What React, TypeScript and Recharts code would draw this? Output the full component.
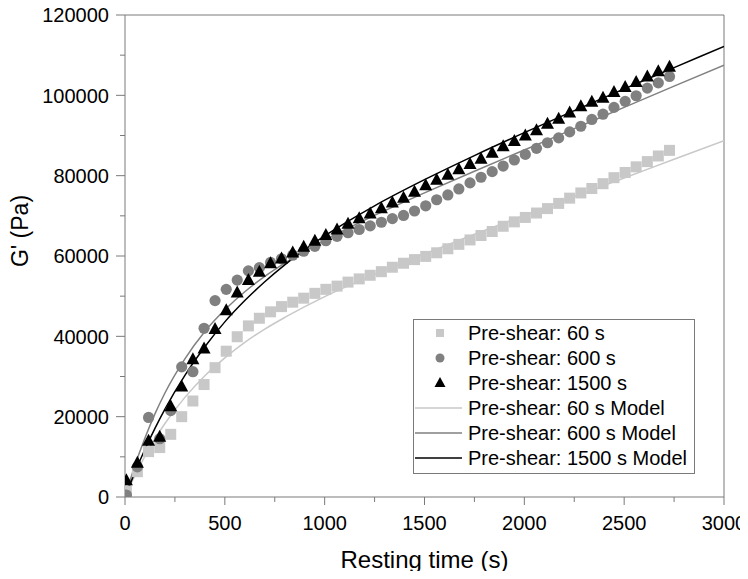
import { ComposedChart, Legend, Line, ReferenceLine, Scatter, XAxis, YAxis } from "recharts";

// measured G' at each resting time, one array per pre-shear duration
const restTime = [
  7, 62, 118, 174, 229, 284, 340, 396, 451, 507, 562, 618, 673, 729, 784, 840, 895, 951, 1006, 1062,
  1117, 1173, 1228, 1284, 1339, 1395, 1450, 1506, 1561, 1617, 1672, 1728, 1783, 1839, 1894, 1950,
  2005, 2061, 2116, 2172, 2227, 2283, 2338, 2394, 2449, 2505, 2560, 2616, 2671, 2727
];
const gPre60 = [
  1500, 6300, 11300, 12300, 15600, 20000, 23900, 28000, 32200, 36300, 39900, 42600, 44500, 46100,
  47400, 48500, 49500, 50700, 51700, 52500, 53500, 54300, 55200, 56100, 57200, 58200, 59100, 59900,
  60800, 61800, 62900, 64000, 65100, 66100, 67400, 68500, 69600, 70700, 71800, 73100, 74400, 75700,
  76800, 78000, 79500, 80800, 82200, 83500, 84900, 86300
];
const gPre600 = [
  500, 7500, 19800, 14500, 21500, 32400, 31200, 42000, 48900, 51700, 54000, 56300, 57100, 58400,
  59300, 60200, 61200, 62400, 63800, 64900, 65800, 66600, 67500, 68400, 69300, 70100, 71200, 72500,
  74000, 75200, 76700, 78200, 79600, 81000, 82400, 83900, 85300, 86800, 88200, 89400, 90900, 92300,
  94000, 95300, 97000, 98500, 99900, 101800, 103100, 104700
];
const gPre1500 = [
  4200, 8500, 14000, 15000, 22600, 27500, 34300, 37000, 41800, 46500, 50900, 54000, 56100, 58200,
  59400, 60900, 62300, 63800, 65200, 66600, 68000, 69400, 70600, 71900, 73300, 74500, 76000, 77600,
  79000, 80200, 81600, 82900, 84200, 85700, 87300, 88600, 90000, 91300, 92900, 94200, 95700, 97300,
  98400, 99400, 100800, 102100, 103300, 104700, 106000, 107100
];

// fitted model curves
const modelTime = [0, 50, 100, 150, 200, 300, 400, 500, 600, 700, 800, 1000, 1250, 1500, 1750, 2000, 2250, 2500, 2750, 3000];
const model60 = [0, 5400, 10200, 14500, 18300, 24800, 30200, 34650, 38500, 41800, 44700, 49900, 55400, 60500, 65400, 70100, 74800, 79400, 84100, 88700];
const model600 = [0, 7900, 14700, 20700, 25900, 34400, 41200, 46600, 51100, 54900, 58200, 63900, 70100, 75700, 81100, 86400, 91700, 97000, 102300, 107500];
const model1500 = [0, 6200, 11900, 17100, 21900, 30300, 37400, 43600, 48900, 53600, 57800, 65000, 72500, 79000, 85000, 90700, 96200, 101600, 106900, 112200];

const xTicks = [0, 250, 500, 750, 1000, 1250, 1500, 1750, 2000, 2250, 2500, 2750, 3000];
const yTicks = [0, 10000, 20000, 30000, 40000, 50000, 60000, 70000, 80000, 90000, 100000, 110000, 120000];

const LIGHT = "#c8c8c8";
const MID = "#808080";
const DARK = "#000000";
const AXIS = "#7a7a7a";
const FONT = "'Liberation Sans', Arial, sans-serif";

const toPoints = (xs: number[], ys: number[]) => xs.map((t, i) => ({ t, g: ys[i] }));

const pts60 = toPoints(restTime, gPre60);
const pts600 = toPoints(restTime, gPre600);
const pts1500 = toPoints(restTime, gPre1500);
const fit60 = toPoints(modelTime, model60);
const fit600 = toPoints(modelTime, model600);
const fit1500 = toPoints(modelTime, model1500);

const SquareDot = (p: any) => <rect x={p.cx - 5.5} y={p.cy - 5.5} width={11} height={11} fill={LIGHT} />;
const CircleDot = (p: any) => <circle cx={p.cx} cy={p.cy} r={5.6} fill={MID} />;
const TriangleDot = (p: any) => (
  <polygon points={`${p.cx},${p.cy - 7} ${p.cx + 6.5},${p.cy + 5} ${p.cx - 6.5},${p.cy + 5}`} fill={DARK} />
);

function XTick({ x, y, payload }: any) {
  const major = payload.value % 500 === 0;
  return (
    <g>
      <line x1={x} x2={x} y1={y} y2={y + (major ? 8 : 5)} stroke={AXIS} />
      {major && (
        <text x={x} y={y + 33} textAnchor="middle" fontSize={20} fontFamily={FONT} fill="#000">
          {payload.value}
        </text>
      )}
    </g>
  );
}

function YTick({ x, y, payload }: any) {
  const major = payload.value % 20000 === 0;
  return (
    <g>
      <line x1={x - (major ? 9 : 5)} x2={x} y1={y} y2={y} stroke={AXIS} />
      {major && (
        <text x={x - 16} y={y} dy="0.36em" textAnchor="end" fontSize={20} fontFamily={FONT} fill="#000">
          {payload.value}
        </text>
      )}
    </g>
  );
}

const legendRows = [
  { label: "Pre-shear: 60 s", kind: "square" },
  { label: "Pre-shear: 600 s", kind: "circle" },
  { label: "Pre-shear: 1500 s", kind: "triangle" },
  { label: "Pre-shear: 60 s Model", kind: "line", color: LIGHT },
  { label: "Pre-shear: 600 s Model", kind: "line", color: MID },
  { label: "Pre-shear: 1500 s Model", kind: "line", color: DARK }
];

function LegendBox() {
  return (
    <svg width={282} height={155} style={{ display: "block" }}>
      <rect x={0.5} y={0.5} width={281} height={154} fill="#fff" stroke={AXIS} />
      {legendRows.map((row, i) => {
        const cy = 14 + i * 25;
        let mark;
        if (row.kind === "square") mark = <rect x={23} y={cy - 4} width={8} height={8} fill={LIGHT} />;
        else if (row.kind === "circle") mark = <circle cx={27} cy={cy} r={4.5} fill={MID} />;
        else if (row.kind === "triangle")
          mark = <polygon points={`27,${cy - 6} 32.5,${cy + 4} 21.5,${cy + 4}`} fill={DARK} />;
        else mark = <line x1={2} x2={49} y1={cy} y2={cy} stroke={row.color} strokeWidth={1.5} />;
        return (
          <g key={row.label}>
            {mark}
            <text x={55} y={cy} dy="0.36em" fontSize={20} fontFamily={FONT} fill="#000">
              {row.label}
            </text>
          </g>
        );
      })}
    </svg>
  );
}

export default function App() {
  return (
    <div style={{ margin: -8 }}>
      <ComposedChart width={748} height={579} margin={{ top: 15, right: 24, bottom: 0, left: 0 }}>
        <XAxis
          type="number"
          dataKey="t"
          domain={[0, 3000]}
          ticks={xTicks}
          interval={0}
          height={82}
          stroke={AXIS}
          tickLine={false}
          tickSize={0}
          tickMargin={0}
          tick={<XTick />}
          label={{
            value: "Resting time (s)",
            position: "insideBottom",
            offset: 11,
            fontSize: 24,
            fontFamily: FONT,
            fill: "#000"
          }}
          allowDataOverflow
        />
        <YAxis
          type="number"
          dataKey="g"
          domain={[0, 120000]}
          ticks={yTicks}
          interval={0}
          width={125}
          stroke={AXIS}
          tickLine={false}
          tickSize={0}
          tickMargin={0}
          tick={<YTick />}
          label={{
            content: () => (
              <text
                x={28}
                y={231}
                transform="rotate(-90 28 231)"
                textAnchor="middle"
                fontSize={23}
                fontFamily={FONT}
                fill="#000"
              >
                G' (Pa)
              </text>
            )
          }}
          allowDataOverflow
        />
        <ReferenceLine y={120000} stroke={AXIS} />
        <ReferenceLine x={3000} stroke={AXIS} />
        <Line data={fit60} dataKey="g" type="monotone" stroke={LIGHT} strokeWidth={1.5} dot={false} isAnimationActive={false} />
        <Line data={fit600} dataKey="g" type="monotone" stroke={MID} strokeWidth={1.5} dot={false} isAnimationActive={false} />
        <Line data={fit1500} dataKey="g" type="monotone" stroke={DARK} strokeWidth={1.5} dot={false} isAnimationActive={false} />
        <Scatter data={pts60} dataKey="g" shape={SquareDot} isAnimationActive={false} />
        <Scatter data={pts600} dataKey="g" shape={CircleDot} isAnimationActive={false} />
        <Scatter data={pts1500} dataKey="g" shape={TriangleDot} isAnimationActive={false} />
        <Legend
          layout="vertical"
          align="center"
          verticalAlign="middle"
          wrapperStyle={{ left: 413, top: 319, width: 282, height: 155 }}
          content={() => <LegendBox />}
        />
      </ComposedChart>
    </div>
  );
}
